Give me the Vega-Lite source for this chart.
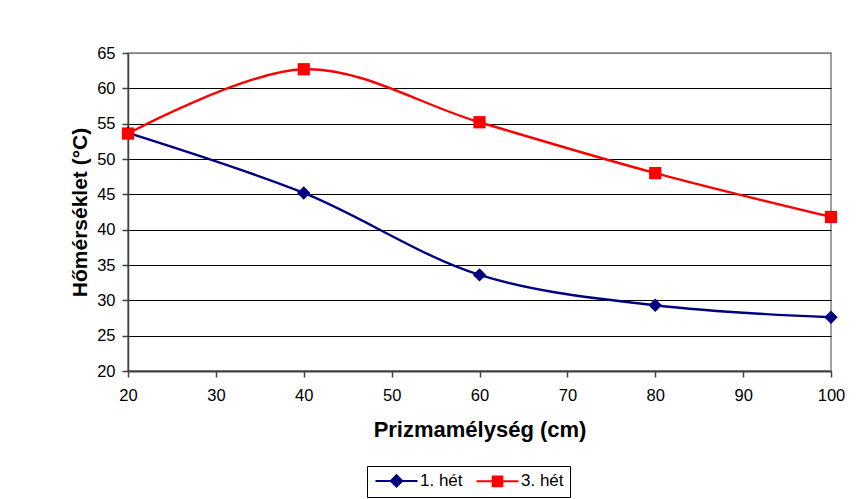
{
  "$schema": "https://vega.github.io/schema/vega-lite/v6.json",
  "autosize": "none",
  "width": 703,
  "height": 318,
  "padding": {"left": 128, "top": 53, "right": 33, "bottom": 128},
  "background": "white",
  "config": {
    "font": "Liberation Sans",
    "view": {"stroke": "#808080", "strokeWidth": 1.5},
    "axis": {
      "labelFont": "Liberation Sans",
      "labelColor": "black",
      "titleFont": "Liberation Sans",
      "titleFontWeight": "bold",
      "titleColor": "black",
      "domainColor": "#404040",
      "domainWidth": 2,
      "tickColor": "#404040",
      "tickSize": 6,
      "tickWidth": 1.5
    }
  },
  "data": {
    "values": [
      {"depth": 20, "series": "1. hét", "temp": 53.7},
      {"depth": 40, "series": "1. hét", "temp": 45.2},
      {"depth": 60, "series": "1. hét", "temp": 33.6},
      {"depth": 80, "series": "1. hét", "temp": 29.3},
      {"depth": 100, "series": "1. hét", "temp": 27.6},
      {"depth": 20, "series": "3. hét", "temp": 53.6},
      {"depth": 40, "series": "3. hét", "temp": 62.7},
      {"depth": 60, "series": "3. hét", "temp": 55.2},
      {"depth": 80, "series": "3. hét", "temp": 48.0},
      {"depth": 100, "series": "3. hét", "temp": 41.8}
    ]
  },
  "encoding": {
    "x": {
      "field": "depth",
      "type": "quantitative",
      "title": "Prizmamélység (cm)",
      "scale": {"domain": [20, 100], "nice": false, "zero": false},
      "axis": {
        "values": [20, 30, 40, 50, 60, 70, 80, 90, 100],
        "grid": false,
        "labelFontSize": 16.5,
        "labelPadding": 10,
        "titleFontSize": 22,
        "titlePadding": 16,
        "labelFlush": false
      }
    },
    "y": {
      "field": "temp",
      "type": "quantitative",
      "title": "Hőmérséklet (°C)",
      "scale": {"domain": [20, 65], "nice": false, "zero": false},
      "axis": {
        "values": [20, 25, 30, 35, 40, 45, 50, 55, 60, 65],
        "grid": true,
        "gridColor": {"condition": {"test": "datum.value === 65", "value": "#808080"}, "value": "black"},
        "gridWidth": 1,
        "domainWidth": 1.5,
        "labelFontSize": 16.5,
        "labelPadding": 7,
        "titleFontSize": 21,
        "titlePadding": 6,
        "labelFlush": false
      }
    }
  },
  "layer": [
    {
      "mark": {"type": "line", "interpolate": "catmull-rom", "strokeWidth": 2.4},
      "encoding": {
        "color": {
          "field": "series",
          "type": "nominal",
          "scale": {"domain": ["1. hét", "3. hét"], "range": ["#000080", "#FF0000"]},
          "legend": {
            "title": null,
            "orient": "none",
            "legendX": 239,
            "legendY": 413,
            "direction": "horizontal",
            "strokeColor": "black",
            "padding": 6,
            "labelFont": "Liberation Sans",
            "labelFontSize": 17,
            "labelColor": "black",
            "labelOffset": 15,
            "symbolOffset": 15,
            "columnPadding": 9,
            "symbolSize": 144,
            "symbolStrokeWidth": 2,
            "encode": {
              "symbols": {
                "update": {
                  "shape": {"signal": "datum.value === '1. hét' ? 'M-3.5,0L3.5,0M0,-0.95L0.95,0L0,0.95L-0.95,0Z' : 'M-3.5,0L3.5,0M-0.8,-0.8L0.8,-0.8L0.8,0.8L-0.8,0.8Z'"},
                  "fill": {"signal": "datum.value === '1. hét' ? '#000080' : '#FF0000'"},
                  "stroke": {"signal": "datum.value === '1. hét' ? '#000080' : '#FF0000'"},
                  "strokeWidth": {"value": 2},
                  "opacity": {"value": 1},
                  "fillOpacity": {"value": 1}
                }
              }
            }
          }
        }
      }
    },
    {
      "transform": [{"filter": "datum.series === '1. hét'"}],
      "mark": {"type": "point", "filled": true, "opacity": 1, "shape": "diamond", "color": "#000080", "size": 180}
    },
    {
      "transform": [{"filter": "datum.series === '3. hét'"}],
      "mark": {"type": "point", "filled": true, "opacity": 1, "shape": "square", "color": "#FF0000", "size": 150}
    }
  ]
}
